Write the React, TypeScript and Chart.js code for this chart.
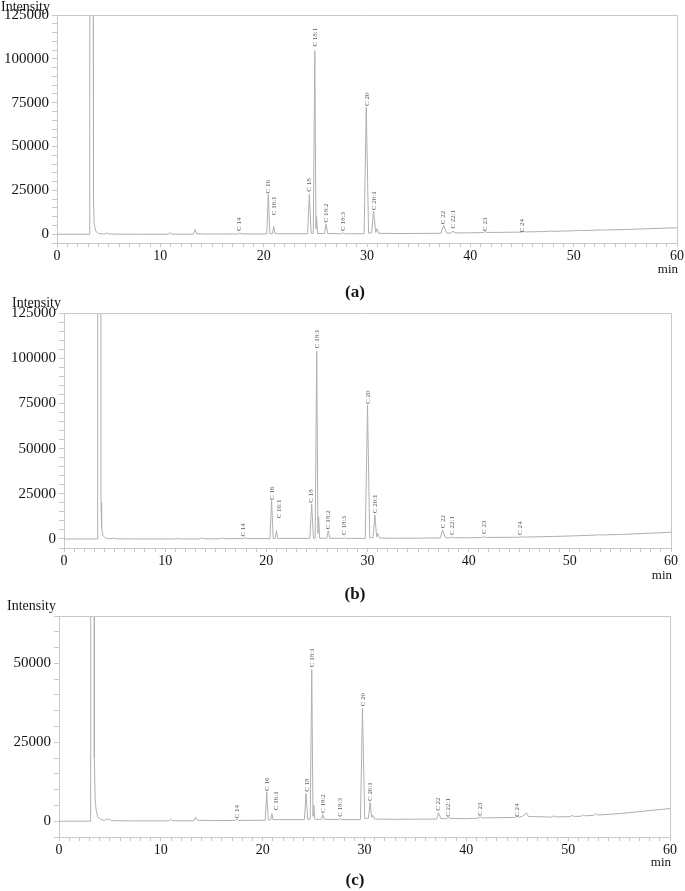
import React, { useEffect, useRef } from "react";
import { Chart, registerables } from "chart.js";
Chart.register(...registerables);

// ---------- data ----------
const PEAK_NAMES = ["C 14", "C 16", "C 16:1", "C 18", "C 18:1", "C 18:2", "C 18:3", "C 20", "C 20:1", "C 22", "C 22:1", "C 23", "C 24"];

const X_TICK_LABELS = [0, 10, 20, 30, 40, 50, 60];

// (a) trace: [retention time (min), intensity]
const TRACE_A: [number, number][] = [
  [0, 0], [3.17, 0], [3.2, 400000], [3.5, 400000], [3.53, 20000], [3.6, 6000], [3.75, 1800], [4.0, 500], [4.4, 150],
  [4.65, 200], [4.8, 700], [5.0, 150], [6, 50], [8, 0], [10.8, 0], [10.95, 1000], [11.1, 50], [13.2, 50], [13.35, 2700],
  [13.5, 300], [14.5, 100], [17.5, 150], [17.7, 600], [17.9, 150], [20.3, 150], [20.45, 22800], [20.6, 300], [20.85, 300],
  [20.97, 4500], [21.1, 300], [24.25, 300], [24.42, 22800], [24.6, 400], [24.8, 400], [24.95, 104700], [25.06, 3000],
  [25.12, 10000], [25.22, 400], [25.9, 400], [26.04, 6000], [26.2, 400], [27.55, 300], [27.72, 800], [27.9, 300],
  [29.72, 300], [29.93, 72300], [30.15, 700], [30.45, 700], [30.63, 13100], [30.85, 1000], [30.97, 3200], [31.15, 500],
  [33, 400], [35, 450], [37.15, 550], [37.42, 5100], [37.7, 650], [38.15, 650], [38.32, 1900], [38.5, 750], [40, 800],
  [41.3, 1000], [41.45, 1500], [41.6, 1000], [44.9, 1200], [45.05, 1800], [45.3, 1300], [47.5, 1600], [47.7, 1900],
  [47.9, 1650], [50, 1950], [50.6, 2300], [50.8, 2050], [52.8, 2500], [53, 2350], [55, 2700], [60, 3700],
];
const LABEL_TIME_A = [17.65, 20.45, 21.04, 24.4, 24.95, 26.04, 27.72, 29.98, 30.69, 37.4, 38.31, 41.43, 45.04];
const LABEL_LEVEL_A = [1900, 23200, 10800, 24200, 107000, 6700, 1900, 73100, 13700, 5700, 3200, 1900, 1000];

// (b) trace
const TRACE_B: [number, number][] = [
  [0, 0], [3.3, 0], [3.33, 400000], [3.63, 400000], [3.66, 20000], [3.72, 6000], [3.85, 1800], [4.1, 500], [4.5, 150],
  [4.75, 150], [4.9, 500], [5.1, 100], [7, 0], [11.0, 0], [11.2, 400], [11.4, 0], [13.45, 0], [13.6, 800], [13.75, 100],
  [15.5, 100], [15.65, 700], [15.8, 150], [17.7, 200], [17.9, 800], [18.1, 200], [20.36, 200], [20.52, 21200], [20.68, 300],
  [20.88, 300], [21.0, 4600], [21.12, 300], [24.3, 300], [24.48, 19400], [24.66, 400], [24.83, 400], [24.98, 104000],
  [25.1, 3000], [25.17, 12300], [25.27, 400], [25.98, 400], [26.12, 4600], [26.27, 400], [27.55, 300], [27.7, 700],
  [27.85, 300], [29.78, 300], [30.0, 74100], [30.22, 700], [30.55, 700], [30.73, 13300], [30.9, 1000], [31.0, 3100],
  [31.2, 500], [33, 400], [35, 450], [37.2, 550], [37.42, 5000], [37.7, 650], [38.25, 650], [38.4, 1000], [38.55, 700],
  [40, 650], [41.35, 800], [41.5, 1400], [41.65, 850], [45.0, 950], [45.13, 1300], [45.3, 1000], [48.5, 1400],
  [50, 1650], [52.7, 2150], [52.9, 2450], [53.1, 2200], [55, 2500], [60, 3700],
];
const LABEL_TIME_B = [17.72, 20.58, 21.25, 24.47, 25.0, 26.12, 27.7, 30.07, 30.73, 37.48, 38.4, 41.5, 45.13];
const LABEL_LEVEL_B = [1300, 21600, 11400, 20100, 105500, 5400, 2200, 74700, 14200, 5900, 2200, 2800, 2200];

// (c) trace
const TRACE_C: [number, number][] = [
  [0, 0], [3.08, 0], [3.11, 400000], [3.44, 400000], [3.47, 20000], [3.55, 7000], [3.65, 3500], [3.8, 1400], [4.1, 500],
  [4.5, 300], [4.65, 700], [4.8, 400], [4.95, 800], [5.1, 200], [7, 100], [10.8, 100], [10.95, 600], [11.2, 150],
  [13.25, 150], [13.4, 1300], [13.6, 300], [15, 200], [17.35, 250], [17.5, 600], [17.65, 250], [20.25, 300], [20.4, 9300],
  [20.55, 400], [20.78, 400], [20.9, 2400], [21.02, 500], [24.1, 500], [24.26, 8800], [24.42, 600], [24.67, 600],
  [24.82, 48000], [24.94, 1500], [25.02, 5100], [25.12, 600], [25.78, 600], [25.9, 2200], [26.05, 600], [27.45, 500],
  [27.6, 900], [27.75, 500], [29.6, 500], [29.8, 35700], [30.02, 900], [30.38, 900], [30.55, 5900], [30.7, 1200],
  [30.8, 1900], [30.98, 700], [33, 600], [35, 650], [37.1, 700], [37.26, 2700], [37.5, 800], [38.1, 800], [38.24, 1300],
  [38.4, 850], [40, 800], [41.22, 1000], [41.36, 1500], [41.5, 1050], [44.8, 1200], [44.96, 1600], [45.1, 1300],
  [45.5, 1500], [45.9, 2600], [46.1, 1500], [48.4, 1300], [48.6, 1700], [48.8, 1350], [50.2, 1450], [50.4, 1850],
  [50.6, 1500], [51.3, 1600], [51.5, 2000], [51.7, 1700], [52.5, 1850], [52.7, 2400], [52.9, 1950], [55, 2400], [60, 4000],
];
const LABEL_TIME_C = [17.52, 20.46, 21.28, 24.33, 24.89, 25.97, 27.6, 29.83, 30.55, 37.26, 38.24, 41.36, 44.96];
const LABEL_LEVEL_C = [850, 9600, 3500, 9300, 48800, 2600, 1400, 36400, 6400, 3300, 1400, 1700, 1400];

// ---------- styling ----------
const FONT = '"Liberation Serif", "Times New Roman", serif';
const TRACE_COLOR = "#b0b0b0";
const AXIS_COLOR = "#c8c8c8";
const TEXT_COLOR = "#151515";
const PEAK_LABEL_COLOR = "#5a5a5a";

type Panel = {
  trace: [number, number][];
  labelTimes: number[];
  labelLevels: number[];
  yMax: number;
  top: number;
  height: number;
  area: { top: number; bottom: number; left: number; right: number };
  intensityX: number;
  intensityGap: number;
  minGap: number;
  caption: string;
  captionY: number;
  labelFont: number;
};

const PANELS: Panel[] = [
  {
    trace: TRACE_A, labelTimes: LABEL_TIME_A, labelLevels: LABEL_LEVEL_A, yMax: 125000,
    top: 0, height: 285, area: { top: 15, bottom: 243, left: 57, right: 677 },
    intensityX: 1, intensityGap: 4, minGap: 27, caption: "(a)", captionY: 292, labelFont: 7,
  },
  {
    trace: TRACE_B, labelTimes: LABEL_TIME_B, labelLevels: LABEL_LEVEL_B, yMax: 125000,
    top: 295, height: 290, area: { top: 18, bottom: 253, left: 64, right: 671 },
    intensityX: 12, intensityGap: 6, minGap: 28, caption: "(b)", captionY: 594, labelFont: 7,
  },
  {
    trace: TRACE_C, labelTimes: LABEL_TIME_C, labelLevels: LABEL_LEVEL_C, yMax: 65000,
    top: 596, height: 280, area: { top: 20, bottom: 241, left: 59, right: 670 },
    intensityX: 7, intensityGap: 6, minGap: 26, caption: "(c)", captionY: 880, labelFont: 7,
  },
];

function ChromChart({ p }: { p: Panel }) {
  const ref = useRef<HTMLCanvasElement>(null);
  useEffect(() => {
    const canvas = ref.current!;
    const overlay = {
      id: "overlay",
      afterDatasetsDraw(chart: any) {
        const { ctx, chartArea: a, scales } = chart;
        const xs = scales.x;
        const ys = scales.y;
        ctx.save();
        ctx.strokeStyle = AXIS_COLOR;
        ctx.lineWidth = 1;
        ctx.beginPath();
        ctx.moveTo(a.left, a.top + 0.5);
        ctx.lineTo(a.right + 0.5, a.top + 0.5);
        ctx.lineTo(a.right + 0.5, a.bottom);
        ctx.stroke();

        ctx.fillStyle = PEAK_LABEL_COLOR;
        ctx.font = `${p.labelFont}px ${FONT}`;
        ctx.textAlign = "left";
        ctx.textBaseline = "middle";
        PEAK_NAMES.forEach((name, i) => {
          const px = xs.getPixelForValue(p.labelTimes[i]);
          const py = ys.getPixelForValue(p.labelLevels[i]);
          ctx.save();
          ctx.translate(px, py);
          ctx.rotate(-Math.PI / 2);
          ctx.fillText(name, 0, 0);
          ctx.restore();
        });

        ctx.fillStyle = TEXT_COLOR;
        ctx.font = `14px ${FONT}`;
        ctx.textAlign = "left";
        ctx.textBaseline = "alphabetic";
        ctx.fillText("Intensity", p.intensityX, a.top - p.intensityGap);

        ctx.font = `13px ${FONT}`;
        ctx.textAlign = "right";
        ctx.textBaseline = "middle";
        ctx.fillText("min", a.right + 1, a.bottom + p.minGap);
        ctx.restore();
      },
    };

    const chart = new Chart(canvas, {
      type: "line",
      data: {
        datasets: [
          {
            data: p.trace.map(([t, v]) => ({ x: t, y: v })),
            borderColor: TRACE_COLOR,
            borderWidth: 1,
            pointRadius: 0,
            tension: 0,
            fill: false,
          },
        ],
      },
      options: {
        animation: false,
        responsive: false,
        events: [],
        layout: { padding: { top: p.area.top, right: 685 - p.area.right, left: 0, bottom: 0 } },
        plugins: { legend: { display: false }, tooltip: { enabled: false } },
        scales: {
          x: {
            type: "linear",
            min: 0,
            max: 60,
            ticks: {
              stepSize: 1,
              autoSkip: false,
              maxRotation: 0,
              padding: 1,
              color: TEXT_COLOR,
              font: { family: FONT, size: 14 },
              callback: (v: any) => (X_TICK_LABELS.includes(Number(v)) ? String(v) : ""),
            },
            grid: { drawOnChartArea: false, drawTicks: true, tickLength: 4, color: AXIS_COLOR },
            border: { display: true, color: AXIS_COLOR },
            afterFit: (s: any) => {
              s.height = p.height - p.area.bottom;
            },
          },
          y: {
            type: "linear",
            min: -5000,
            max: p.yMax,
            ticks: {
              stepSize: 5000,
              autoSkip: false,
              padding: 3,
              color: TEXT_COLOR,
              font: { family: FONT, size: 15 },
              callback: (v: any) => (Number(v) >= 0 && Number(v) % 25000 === 0 ? String(v) : ""),
            },
            grid: { drawOnChartArea: false, drawTicks: true, tickLength: 5, color: AXIS_COLOR },
            border: { display: true, color: AXIS_COLOR },
            afterFit: (s: any) => {
              s.width = p.area.left;
            },
          },
        },
      },
      plugins: [overlay],
    } as any);
    return () => chart.destroy();
  }, [p]);
  return (
    <canvas
      ref={ref}
      width={685}
      height={p.height}
      style={{ position: "absolute", left: 0, top: p.top, width: 685, height: p.height, display: "block" }}
    />
  );
}

export default function App() {
  return (
    <div style={{ position: "absolute", left: 0, top: 0, width: 685, height: 891, background: "#fff", overflow: "hidden" }}>
      {PANELS.map((p) => (
        <React.Fragment key={p.caption}>
          <ChromChart p={p} />
          <div
            style={{
              position: "absolute",
              left: 355,
              top: p.captionY - 11,
              transform: "translateX(-50%)",
              fontFamily: FONT,
              fontWeight: "bold",
              fontSize: 17,
              lineHeight: "22px",
              color: TEXT_COLOR,
            }}
          >
            {p.caption}
          </div>
        </React.Fragment>
      ))}
    </div>
  );
}
